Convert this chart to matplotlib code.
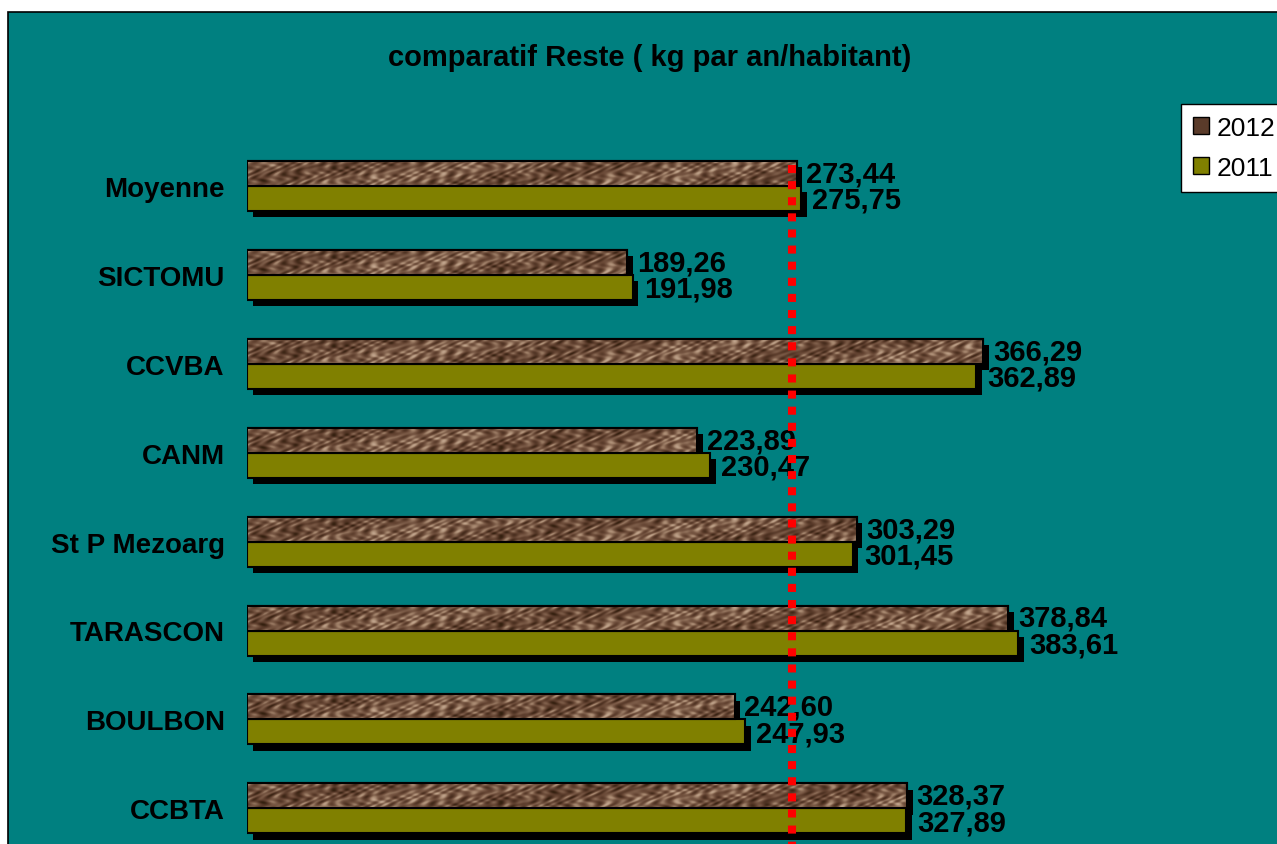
import numpy as np
import matplotlib
matplotlib.use("Agg")
import matplotlib.pyplot as plt
from matplotlib.patches import Rectangle, Patch
from matplotlib.colors import LinearSegmentedColormap
import matplotlib.patheffects as pe

plt.rcParams['font.family'] = ['Liberation Sans', 'DejaVu Sans']

categories = ['Moyenne', 'SICTOMU', 'CCVBA', 'CANM', 'St P Mezoarg',
              'TARASCON', 'BOULBON', 'CCBTA']
v2012 = [273.44, 189.26, 366.29, 223.89, 303.29, 378.84, 242.60, 328.37]
v2011 = [275.75, 191.98, 362.89, 230.47, 301.45, 383.61, 247.93, 327.89]
ref_line = 271.0
title = 'comparatif Reste ( kg par an/habitant)'

teal = '#008080'
olive = '#808000'
brown = '#5a3b2a'

W, H = 1277, 845
fig = plt.figure(figsize=(W / 100, H / 100), dpi=100)
fig.patch.set_facecolor('white')

# teal chart area with thin black border (top and left visible)
bg = Rectangle((8 / W, -0.1), 1.2, (H - 13) / H + 0.1,
               transform=fig.transFigure, facecolor=teal,
               edgecolor='black', linewidth=1.2, zorder=-5)
fig.patches.append(bg)

px_per_unit = 2.01
x0 = 247
ax_w = (W - x0 + 20)
cat_gap = 88.9
y_first = 187
ax_top = 100
ax = fig.add_axes([x0 / W, 0, ax_w / W, (H - ax_top) / H])
ax.set_zorder(1)
ax.set_facecolor('none')
ax.set_xlim(0, ax_w / px_per_unit)
ybot = (H - y_first) / cat_gap
ax.set_ylim(ybot, -(y_first - ax_top) / cat_gap)
for s in ax.spines.values():
    s.set_visible(False)

y = np.arange(len(categories))
bh = 25 / cat_gap
shadow = [pe.SimplePatchShadow(offset=(4, -4.5), shadow_rgbFace='black', alpha=1.0), pe.Normal()]

b12 = ax.barh(y - bh / 2, v2012, height=bh, color=brown, edgecolor='black',
              linewidth=1.5, zorder=3)
b11 = ax.barh(y + bh / 2, v2011, height=bh, color=olive, edgecolor='black',
              linewidth=1.5, zorder=3)
for b in list(b12) + list(b11):
    b.set_path_effects(shadow)

# marble-like texture on the 2012 bars
marble = LinearSegmentedColormap.from_list(
    'marble', ['#34200f', '#4e3222', '#654533', '#7c5c48', '#a2836b', '#c2a68e'])
for b, v in zip(b12, v2012):
    ncol = int(v * px_per_unit)
    xx, yy = np.meshgrid(np.arange(ncol), np.arange(25))
    tex = (np.sin(xx / 3.1 + 1.8 * np.sin(yy / 2.2 + xx / 17.0))
           * np.cos(yy / 2.7 - xx / 9.3 + np.sin(xx / 29.0) * 2)
           + 0.6 * np.sin(xx / 1.9 + yy / 1.3 + np.cos(yy / 3.0 + xx / 13.0) * 2)
           + 0.4 * np.cos(xx / 41.0 + yy / 6.0))
    im = ax.imshow(tex, cmap=marble, aspect='auto', interpolation='bilinear',
                   extent=(0, v, b.get_y() + b.get_height(), b.get_y()), zorder=3.5)
    im.set_clip_path(b)
    ax.add_patch(Rectangle((b.get_x(), b.get_y()), b.get_width(), b.get_height(),
                           facecolor='none', edgecolor='black', linewidth=1.5, zorder=3.6))

ax.vlines(ref_line, y[0] - bh * 0.85, ybot, color='#ff0000', linewidth=5.8,
          linestyle=(0, (1.0, 1.0)), zorder=6).set_capstyle('butt')

def fmt(v):
    return f'{v:.2f}'.replace('.', ',')

for yy_, v in zip(y - bh / 2, v2012):
    ax.annotate(fmt(v), (v, yy_), xytext=(7, 0), textcoords='offset points',
                ha='left', va='center', fontsize=21, fontweight='bold', zorder=5)
for yy_, v in zip(y + bh / 2, v2011):
    ax.annotate(fmt(v), (v, yy_), xytext=(8, -1), textcoords='offset points',
                ha='left', va='center', fontsize=21, fontweight='bold', zorder=5)

ax.set_yticks(y)
ax.set_yticklabels(categories, fontsize=20, fontweight='bold')
ax.tick_params(axis='y', length=0, pad=16)
ax.set_xticks([])

fig.text(650 / W, 1 - 58 / H, title, ha='center', va='center',
         fontsize=21, fontweight='bold')

handles = [Patch(facecolor=brown, edgecolor='black'),
           Patch(facecolor=olive, edgecolor='black')]
leg = fig.legend(handles, ['2012', '2011'], loc='upper left',
                 bbox_to_anchor=(1181 / W, 1 - 105 / H), fontsize=19,
                 frameon=True, fancybox=False, framealpha=1, edgecolor='black',
                 handlelength=0.6, handleheight=0.6, handletextpad=0.3,
                 labelspacing=0.6, borderpad=0.45, borderaxespad=0)
leg.get_frame().set_linewidth(1.0)
leg.set_zorder(10)

fig.savefig('out.png', dpi=100)
